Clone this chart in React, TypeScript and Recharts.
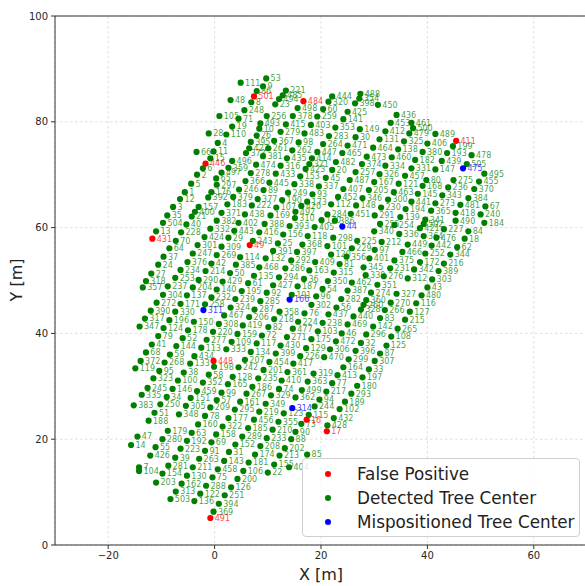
import React from "react";
import {
  ScatterChart,
  Scatter,
  XAxis,
  YAxis,
  CartesianGrid,
  ReferenceLine,
  Label,
} from "recharts";

// [tree id, x (m), y (m)]
type Row = [number, number, number];

const falsePositive: Row[] = [
  [501, 7.4, 84.8], [484, 16.7, 83.9], [411, 45.4, 76.4], [446, -1.7, 72.1], [431, -11.7, 57.9],
  [49, 6.6, 56.7], [448, -0.2, 34.8], [16, 17.3, 23.7], [17, 21.1, 21.5], [491, -0.8, 5.1],
];

const mispositioned: Row[] = [
  [475, 46.7, 71.2], [44, 24.0, 60.2], [166, 14.1, 46.4], [311, -2.1, 44.4], [314, 14.6, 25.9],
];

const detected: Row[] = [
  [111, 4.9, 87.4], [53, 9.7, 88.2], [9, 9.1, 86.7], [86, 7.9, 85.8], [8, 6.9, 83.7], [48, 3.0, 84.1],
  [248, 5.6, 82.2], [221, 13.4, 85.9], [485, 12.8, 85.0], [494, 12.1, 84.3], [23, 11.4, 83.3],
  [498, 15.6, 82.6], [444, 22.1, 84.8], [320, 21.4, 83.8], [488, 27.4, 85.3], [354, 27.2, 84.4],
  [398, 26.4, 83.5], [450, 30.7, 83.2], [60, 20.4, 82.4], [425, 25.0, 81.9],
  [105, 0.9, 81.1], [71, 4.5, 80.6], [256, 9.8, 81.1], [378, 14.7, 81.1], [259, 19.3, 81.0],
  [141, 24.2, 80.5], [436, 34.2, 81.3], [19, 3.3, 79.1], [493, 8.6, 79.7], [10, 8.4, 78.7],
  [415, 13.4, 79.5], [403, 18.1, 79.4], [353, 22.7, 78.9], [149, 27.3, 78.6], [453, 33.1, 79.8],
  [461, 37.0, 79.8], [412, 32.1, 78.2], [500, 37.3, 78.8], [479, 36.6, 77.8], [489, 41.5, 77.7],
  [28, -1.1, 77.8], [110, 2.2, 77.6], [26, 7.9, 77.4], [279, 12.4, 78.1], [483, 16.9, 77.8],
  [283, 21.5, 77.3], [30, 26.5, 77.1], [131, 31.0, 76.7], [325, 35.6, 76.3], [406, 40.0, 75.9],
  [199, 44.8, 75.4], [4, 0.6, 76.0], [395, 6.8, 76.2], [367, 11.2, 76.4], [98, 15.8, 76.1],
  [264, 20.4, 75.8], [471, 25.0, 75.5], [464, 29.8, 75.1], [138, 34.5, 74.8], [380, 39.1, 74.3],
  [193, 43.7, 74.1], [478, 48.3, 73.7], [66, -3.4, 74.3], [11, -0.2, 74.4], [373, 5.9, 74.1],
  [422, 6.5, 75.0], [261, 10.1, 75.0], [262, 14.6, 74.6], [447, 19.3, 74.3], [465, 24.0, 74.1],
  [473, 28.6, 73.4], [460, 33.3, 73.3], [182, 37.7, 72.8], [439, 42.7, 72.6], [505, 47.4, 72.0],
  [15, -0.8, 73.1], [496, 3.3, 72.6], [381, 9.1, 73.5], [435, 13.6, 73.1], [414, 18.3, 73.1],
  [321, 17.8, 72.0], [423, 17.1, 71.1], [482, 22.8, 72.4], [374, 27.7, 72.0], [334, 32.1, 71.7],
  [331, 37.0, 71.2], [147, 41.5, 71.0], [6, -2.2, 71.2], [359, 2.6, 71.3], [474, 7.8, 71.9],
  [316, 12.4, 71.7], [20, 22.1, 70.9], [257, 26.5, 70.5], [326, 31.0, 70.1], [457, 35.8, 69.8],
  [495, 50.7, 70.2], [497, 1.3, 70.4], [278, 6.8, 70.3], [433, 11.5, 70.2], [153, 16.1, 69.7],
  [45, 20.9, 69.4], [2, -3.3, 70.0], [65, 0.3, 69.3], [366, 5.8, 68.8], [445, 10.3, 68.5],
  [338, 15.0, 68.2], [337, 19.6, 67.8], [487, 25.4, 69.0], [407, 24.2, 67.3], [167, 30.0, 68.6],
  [121, 34.6, 68.3], [168, 39.1, 67.9], [80, 39.8, 69.0], [275, 44.9, 69.0], [455, 49.7, 68.7],
  [5, -4.4, 68.3], [297, 0.4, 68.1], [246, 4.6, 67.2], [89, 9.2, 67.1], [249, 13.8, 66.6],
  [93, 18.4, 66.3], [205, 29.0, 67.1], [463, 33.7, 66.7], [145, 38.2, 66.4], [236, 43.9, 67.6],
  [370, 48.8, 67.3], [1, -5.6, 66.7], [176, -0.6, 66.7], [392, -1.2, 65.7], [379, 3.5, 65.8],
  [377, 8.1, 65.4], [190, 12.7, 65.2], [173, 17.4, 64.9], [452, 23.2, 65.8], [346, 27.8, 65.6],
  [300, 32.6, 65.3], [441, 37.0, 64.9], [343, 42.8, 66.1], [384, 47.7, 65.6], [12, -6.5, 65.4],
  [157, -3.0, 63.9], [400, -3.7, 63.0], [183, 2.4, 64.4], [222, 7.0, 64.2], [107, 11.6, 63.8],
  [420, 16.3, 64.1], [112, 21.9, 64.4], [148, 26.6, 64.2], [230, 31.3, 63.8], [194, 35.9, 63.5],
  [273, 41.5, 64.6], [481, 46.2, 64.3], [67, 50.9, 64.0], [3, -7.8, 63.9], [21, -4.3, 62.1],
  [35, -8.9, 62.3], [371, 1.3, 62.8], [438, 5.7, 62.5], [169, 10.5, 62.3], [492, 15.2, 63.0],
  [310, 15.1, 61.8], [170, 20.1, 61.4], [284, 21.2, 62.5], [386, 22.6, 61.3], [451, 25.6, 62.6],
  [291, 30.1, 62.3], [139, 34.9, 62.0], [365, 40.7, 63.2], [418, 45.3, 62.8], [240, 50.0, 62.5],
  [504, -9.7, 60.9], [40, -5.3, 60.6], [382, 0.4, 61.3], [402, 4.5, 60.9], [388, 9.4, 60.7],
  [393, 14.1, 60.3], [405, 18.8, 60.1], [255, 31.1, 60.7], [254, 33.8, 60.5], [341, 39.6, 61.5],
  [502, 39.3, 60.7], [421, 38.6, 59.9], [490, 45.3, 61.3], [184, 50.7, 60.9], [13, -11.0, 59.3],
  [228, -6.3, 59.1], [332, -0.8, 59.8], [443, 3.7, 59.4], [416, 8.4, 59.1], [156, 12.9, 58.7],
  [118, 17.5, 58.4], [298, 22.3, 58.1], [340, 30.0, 59.3], [336, 34.7, 58.8], [364, 39.3, 58.4],
  [227, 43.1, 59.7], [84, 47.7, 59.3], [70, -7.3, 57.5], [424, -1.9, 58.2], [29, 2.6, 58.1],
  [243, 7.2, 57.5], [25, 11.9, 57.0], [368, 16.5, 56.8], [101, 21.2, 56.5], [225, 26.8, 57.5],
  [212, 31.4, 57.3], [476, 41.7, 58.1], [18, 47.0, 57.9], [301, -3.2, 56.7], [309, 1.3, 56.4],
  [391, 11.0, 55.6], [397, 15.5, 55.4], [120, 21.9, 54.9], [229, 25.8, 56.1], [97, 30.1, 55.8],
  [449, 36.3, 56.8], [442, 40.8, 56.6], [62, 45.6, 56.3], [64, -8.5, 56.1], [247, -4.1, 55.1],
  [269, 0.4, 54.8], [114, 4.8, 54.4], [132, 9.6, 54.2], [292, 14.4, 53.8], [409, 18.9, 53.5],
  [356, 24.8, 54.5], [401, 29.1, 54.2], [466, 35.3, 55.4], [252, 39.6, 55.1], [344, 44.3, 54.9],
  [37, -9.6, 54.5], [376, -5.1, 53.5], [42, -0.6, 53.2], [385, 4.0, 53.0], [468, 8.4, 52.5],
  [286, 13.3, 52.3], [163, 17.8, 51.9], [81, 23.5, 53.1], [315, 22.4, 51.5], [345, 28.0, 52.5],
  [375, 33.8, 53.8], [172, 38.6, 53.5], [216, 43.1, 53.2], [24, -10.6, 53.0], [234, -6.4, 52.0],
  [214, -1.7, 51.8], [50, 2.9, 51.4], [135, 7.4, 50.9], [294, 12.1, 50.6], [36, 16.8, 50.3],
  [339, 28.4, 51.0], [231, 33.0, 52.3], [342, 37.5, 52.1], [389, 42.1, 51.8], [27, -11.9, 51.3],
  [253, -7.4, 50.5], [290, -3.0, 50.1], [429, 1.5, 49.8], [61, 6.3, 49.5], [427, 11.0, 49.1],
  [187, 15.6, 48.9], [350, 21.3, 49.9], [462, 25.8, 49.6], [276, 31.8, 50.8], [312, 36.3, 50.4],
  [303, 40.9, 50.2], [318, -12.9, 49.9], [357, -13.5, 48.7], [237, -8.8, 48.9], [204, -4.1, 48.7],
  [140, 0.4, 48.3], [195, 5.1, 48.0], [92, 9.8, 47.7], [54, 20.3, 48.4], [387, 25.0, 48.1],
  [351, 30.6, 49.2], [43, 40.0, 48.7], [304, -9.7, 47.3], [137, -5.2, 47.2], [232, -0.6, 46.8],
  [239, 3.9, 46.5], [285, 8.6, 46.1], [191, 14.5, 47.3], [96, 19.1, 47.0], [282, 23.8, 46.5],
  [274, 29.4, 47.7], [327, 34.2, 47.5], [480, 38.9, 47.2], [272, -10.9, 45.8], [171, -6.4, 45.6],
  [258, -1.8, 45.5], [302, 18.2, 45.4], [56, 22.9, 44.9], [360, 28.5, 46.3], [260, 28.0, 45.4],
  [328, 27.5, 44.5], [270, 33.1, 45.8], [116, 37.9, 45.7], [390, -12.0, 44.3], [330, -7.4, 44.1],
  [324, 3.0, 44.9], [287, 7.5, 44.5], [358, 12.2, 44.1], [76, 16.9, 43.8], [437, 21.4, 43.6],
  [266, 32.0, 44.4], [127, 36.7, 44.1], [317, -13.1, 42.8], [196, -8.5, 42.5], [150, -3.9, 42.2],
  [467, 1.8, 43.4], [206, 6.5, 43.1], [218, 11.2, 42.7], [224, 15.7, 42.2], [440, 26.1, 43.2],
  [83, 31.1, 42.9], [215, 35.8, 42.6], [347, -14.1, 41.3], [124, -9.6, 41.0], [178, -5.0, 40.6],
  [308, 0.8, 41.8], [419, 5.3, 41.5], [82, 10.1, 41.2], [477, 14.7, 40.9], [238, 20.3, 42.0],
  [469, 25.0, 41.7], [142, 29.8, 41.3], [265, 34.4, 40.9], [79, -10.6, 39.5], [52, -6.0, 39.1],
  [220, -0.3, 40.3], [159, 4.3, 39.9], [72, 8.9, 39.6], [271, 13.6, 39.3], [103, 19.4, 40.4],
  [46, 23.9, 40.0], [296, 28.5, 39.8], [108, 33.2, 39.4], [41, -11.8, 37.9], [144, -7.2, 37.6],
  [277, -1.5, 38.8], [109, 3.2, 38.4], [117, 7.9, 38.1], [430, 12.4, 37.7], [175, 18.2, 38.9],
  [472, 22.8, 38.5], [32, 27.5, 38.2], [125, 32.3, 37.7], [68, -12.9, 36.4], [59, -8.4, 36.0],
  [113, -2.5, 37.3], [333, 2.2, 37.0], [134, 6.8, 36.5], [399, 11.5, 36.2], [129, 17.2, 37.2],
  [306, 21.7, 37.0], [396, 26.5, 36.7], [87, 31.1, 36.2], [372, -13.9, 34.8], [268, -9.4, 34.5],
  [434, -3.8, 35.7], [133, -4.6, 34.3], [198, -0.1, 33.7], [207, 5.7, 35.0], [454, 10.3, 34.6],
  [417, 14.8, 34.3], [226, 16.1, 35.7], [470, 20.6, 35.5], [299, 25.2, 35.1], [307, 30.1, 34.8],
  [119, -14.9, 33.4], [95, -10.4, 32.9], [38, -5.8, 32.6], [58, -1.1, 32.2], [242, 4.5, 33.6],
  [128, 3.4, 31.8], [201, 9.2, 33.1], [361, 13.7, 32.7], [319, 18.6, 32.4], [164, 24.2, 33.6],
  [33, 29.0, 33.2], [323, -11.5, 31.5], [100, -6.9, 31.1], [352, -2.2, 30.7], [165, 2.5, 30.4],
  [235, 8.2, 31.5], [410, 12.6, 31.1], [363, 17.5, 30.9], [413, 23.1, 32.1], [197, 27.8, 31.7],
  [245, -12.6, 29.7], [146, -7.9, 29.5], [459, -3.3, 29.1], [99, 1.3, 28.8], [186, 7.1, 29.9],
  [74, 12.1, 29.5], [499, 16.4, 29.3], [77, 22.1, 30.6], [180, 26.8, 30.1], [335, -13.7, 28.4],
  [34, -9.0, 28.0], [151, -4.5, 27.8], [57, 0.4, 27.4], [267, 6.0, 28.6], [329, 10.6, 28.3],
  [362, 15.2, 27.9], [217, 21.0, 29.0], [293, 25.7, 28.6], [383, -15.2, 26.4], [250, -10.2, 26.6],
  [305, -5.4, 26.3], [209, -0.8, 26.0], [161, 4.8, 27.1], [349, 9.6, 26.7], [94, 19.7, 27.5],
  [189, 24.5, 27.1], [51, -11.3, 25.0], [348, -6.7, 24.7], [78, -1.8, 24.4], [295, 3.8, 25.6],
  [219, 8.4, 25.2], [123, 13.0, 24.9], [244, 18.8, 26.2], [102, 23.5, 25.7], [188, -12.4, 23.5],
  [177, 2.6, 24.0], [456, 7.4, 23.7], [355, 12.0, 23.3], [115, 17.7, 24.6], [73, 16.3, 22.9],
  [432, 22.4, 24.0], [160, -3.1, 22.8], [322, 1.5, 22.4], [185, 6.3, 22.1], [210, 10.9, 21.8],
  [90, 15.2, 21.4], [428, 21.2, 22.6], [179, -8.8, 21.6], [63, -4.3, 21.2], [158, 0.3, 20.9],
  [289, 5.2, 20.5], [233, 9.8, 20.2], [88, 14.4, 20.0], [47, -14.5, 20.5], [280, -9.8, 20.0],
  [192, -5.2, 19.7], [69, -0.6, 19.4], [152, 3.9, 19.0], [208, 8.6, 18.7], [202, 13.2, 18.3],
  [14, -15.7, 18.9], [55, -11.1, 18.5], [223, -6.4, 18.2], [91, -1.8, 17.8], [31, 2.7, 17.6],
  [174, 7.6, 17.1], [213, 12.2, 16.9], [85, 17.4, 17.1], [426, -12.1, 16.9], [39, -7.4, 16.5],
  [263, -2.9, 16.3], [143, 1.8, 15.9], [181, 6.4, 15.6], [155, 11.2, 15.2], [404, 14.0, 14.7],
  [7, -14.2, 14.7], [104, -14.2, 14.0], [281, -8.7, 15.0], [211, -4.1, 14.7], [458, 0.6, 14.3],
  [106, 5.4, 14.0], [22, 10.0, 13.7], [154, -9.8, 13.5], [130, -5.2, 13.1], [75, -0.4, 12.8],
  [200, 4.3, 12.5], [203, -11.0, 11.8], [162, -6.2, 11.6], [288, -1.6, 11.2], [126, 3.1, 10.9],
  [313, -7.3, 10.1], [122, -2.7, 9.7], [251, 1.9, 9.4], [503, -8.3, 8.7], [136, -3.8, 8.3],
  [394, 0.8, 7.8], [369, -0.2, 6.3],
];

const xTicks = [-20, 0, 20, 40, 60];
const yTicks = [0, 20, 40, 60, 80, 100];

const legendItems = [
  { label: "False Positive", color: "red" },
  { label: "Detected Tree Center", color: "green" },
  { label: "Mispositioned Tree Center", color: "blue" },
];

const FONT = '"DejaVu Sans", sans-serif';

const toPoints = (rows: Row[]) => rows.map(([id, x, y]) => ({ id, x, y }));

// dot plus its tree id written just to the right
function makeShape(color: string) {
  return (props: any) => {
    const { cx, cy, payload } = props;
    if (cx == null || cy == null) return <g />;
    return (
      <g>
        <circle cx={cx} cy={cy} r={3.1} fill={color} />
        <text
          x={cx + 4.4}
          y={cy}
          dy="0.36em"
          fontSize={8}
          fontFamily={FONT}
          fill={color}
          fillOpacity={0.75}
        >
          {payload.id}
        </text>
      </g>
    );
  };
}

const fmtTick = (v: number) => (v < 0 ? `\u2212${Math.abs(v)}` : String(v));

export default function App() {
  return (
    <div
      style={{
        position: "fixed",
        left: 0,
        top: 0,
        width: 585,
        height: 586,
        overflow: "hidden",
        background: "#fff",
        fontFamily: FONT,
      }}
    >
      <ScatterChart width={600} height={586} margin={{ top: 16, right: 13, bottom: 0, left: 0 }}>
        <CartesianGrid stroke="#d6d6d6" strokeDasharray="2.5 2.5" strokeWidth={0.8} />
        <XAxis
          type="number"
          dataKey="x"
          domain={[-30, 70]}
          ticks={xTicks}
          allowDataOverflow
          height={41}
          tickSize={4}
          tickMargin={3}
          tickFormatter={fmtTick}
          tick={{ fill: "#262626", fontSize: 10, fontFamily: FONT }}
          axisLine={{ stroke: "#333" }}
          tickLine={{ stroke: "#333" }}
        >
          <Label
            content={() => (
              <text x={321} y={580} textAnchor="middle" fontSize={16} fontFamily={FONT} fill="#222">
                X [m]
              </text>
            )}
          />
        </XAxis>
        <YAxis
          type="number"
          dataKey="y"
          domain={[0, 100]}
          ticks={yTicks}
          allowDataOverflow
          width={55}
          tickSize={4}
          tickMargin={3}
          tick={{ fill: "#262626", fontSize: 10, fontFamily: FONT }}
          axisLine={{ stroke: "#333" }}
          tickLine={{ stroke: "#333" }}
        >
          <Label
            content={() => (
              <text
                x={16}
                y={280}
                transform="rotate(-90 16 280)"
                textAnchor="middle"
                dominantBaseline="central"
                fontSize={16}
                fontFamily={FONT}
                fill="#222"
              >
                Y [m]
              </text>
            )}
          />
        </YAxis>
        <ReferenceLine y={100} stroke="#333" />
        <Scatter data={toPoints(detected)} shape={makeShape("green")} isAnimationActive={false} />
        <Scatter data={toPoints(falsePositive)} shape={makeShape("red")} isAnimationActive={false} />
        <Scatter data={toPoints(mispositioned)} shape={makeShape("blue")} isAnimationActive={false} />
      </ScatterChart>

      <div
        style={{
          position: "absolute",
          left: 302,
          top: 458,
          width: 278,
          height: 79,
          border: "1px solid #d0d0d0",
          borderRadius: 4,
          background: "rgba(255,255,255,0.8)",
          boxSizing: "border-box",
        }}
      >
        {legendItems.map((item, i) => (
          <div
            key={item.label}
            style={{
              position: "absolute",
              left: 0,
              top: 4 + i * 24,
              height: 22,
              display: "flex",
              alignItems: "center",
              fontSize: 16.8,
              color: "#222",
              whiteSpace: "nowrap",
            }}
          >
            <span
              style={{
                display: "inline-block",
                width: 6,
                height: 6,
                borderRadius: "50%",
                background: item.color,
                marginLeft: 22,
                marginRight: 26,
              }}
            />
            {item.label}
          </div>
        ))}
      </div>
    </div>
  );
}
